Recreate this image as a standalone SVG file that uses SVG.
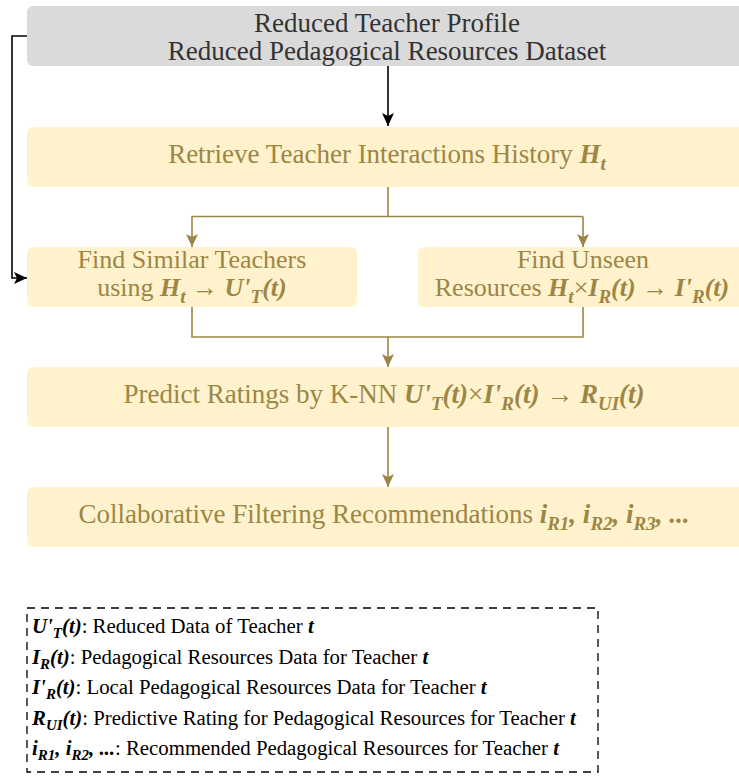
<svg xmlns="http://www.w3.org/2000/svg" width="739" height="776" viewBox="0 0 739 776">
<style>
text{font-family:"Liberation Serif","Times New Roman",serif}
.main{font-size:27px;text-anchor:middle;fill:#9c8646}
.two{font-size:26px}
.top{font-size:27px;text-anchor:middle;fill:#333333}
.m{font-weight:bold;font-style:italic}
.s{font-weight:bold;font-style:italic;font-size:19px}
.ls{font-weight:bold;font-style:italic;font-size:15px}
.leg{font-size:20.8px;fill:#000}
.gold{fill:#fff2cc}
.gl{stroke:#9c8646;stroke-width:1.6;fill:none}
.bl{stroke:#000;stroke-width:1.6;fill:none}
</style>
<defs>
<marker id="ag" markerUnits="userSpaceOnUse" markerWidth="16" markerHeight="16" viewBox="-14 -8 16 16" refX="0" refY="0" orient="auto">
<path d="M0,0 L-13,-6 L-10,0 L-13,6 Z" fill="#9c8646"/>
</marker>
<marker id="ab" markerUnits="userSpaceOnUse" markerWidth="16" markerHeight="16" viewBox="-14 -8 16 16" refX="0" refY="0" orient="auto">
<path d="M0,0 L-13,-6 L-10,0 L-13,6 Z" fill="#000"/>
</marker>
</defs>
<g id="connectors">
<path class="bl" d="M388,66 V126" marker-end="url(#ab)"/>
<path class="bl" d="M27,36 H12 V278 H27" marker-end="url(#ab)"/>
<path class="gl" d="M388,187 V216.5"/>
<path class="gl" d="M583,216.5 H192 V247" marker-end="url(#ag)"/>
<path class="gl" d="M583,216.5 V247" marker-end="url(#ag)"/>
<path class="gl" d="M192,307 V337 H583 V307"/>
<path class="gl" d="M388,337 V367" marker-end="url(#ag)"/>
<path class="gl" d="M388,427 V487" marker-end="url(#ag)"/>
</g>
<g id="node-top">
<rect x="27" y="6" width="721" height="60" rx="6" fill="#dadada"/>
<text class="top" x="387" y="32">Reduced Teacher Profile</text>
<text class="top" x="387" y="60">Reduced Pedagogical Resources Dataset</text>
</g>
<g id="node-retrieve">
<rect class="gold" x="27" y="127" width="721" height="60" rx="6"/>
<text class="main" x="387" y="163">Retrieve Teacher Interactions History <tspan class="m">H</tspan><tspan class="s" dy="7">t</tspan></text>
</g>
<g id="node-similar">
<rect class="gold" x="27" y="247" width="330" height="60" rx="6"/>
<text class="main two" x="192" y="268">Find Similar Teachers</text>
<text class="main two" x="192" y="296">using <tspan class="m">H</tspan><tspan class="s" dy="7">t</tspan><tspan dy="-7"> → </tspan><tspan class="m">U'</tspan><tspan class="s" dy="7">T</tspan><tspan class="m" dy="-7">(t)</tspan></text>
</g>
<g id="node-unseen">
<rect class="gold" x="418" y="247" width="330" height="60" rx="6"/>
<text class="main two" x="583" y="268">Find Unseen</text>
<text class="main two" x="582" y="296">Resources <tspan class="m">H</tspan><tspan class="s" dy="7">t</tspan><tspan dy="-7">×</tspan><tspan class="m">I</tspan><tspan class="s" dy="7">R</tspan><tspan class="m" dy="-7">(t)</tspan> → <tspan class="m">I'</tspan><tspan class="s" dy="7">R</tspan><tspan class="m" dy="-7">(t)</tspan></text>
</g>
<g id="node-predict">
<rect class="gold" x="27" y="367" width="721" height="60" rx="6"/>
<text class="main" x="384" y="403">Predict Ratings by K-NN <tspan class="m">U'</tspan><tspan class="s" dy="7">T</tspan><tspan class="m" dy="-7">(t)</tspan>×<tspan class="m">I'</tspan><tspan class="s" dy="7">R</tspan><tspan class="m" dy="-7">(t)</tspan> → <tspan class="m">R</tspan><tspan class="s" dy="7">UI</tspan><tspan class="m" dy="-7">(t)</tspan></text>
</g>
<g id="node-recommend">
<rect class="gold" x="27" y="487" width="721" height="60" rx="6"/>
<text class="main" x="384" y="523">Collaborative Filtering Recommendations <tspan class="m">i</tspan><tspan class="s" dy="7">R1</tspan><tspan class="m" dy="-7">, i</tspan><tspan class="s" dy="7">R2</tspan><tspan class="m" dy="-7">, i</tspan><tspan class="s" dy="7">R3</tspan><tspan class="m" dy="-7">, ...</tspan></text>
</g>
<g id="legend">
<rect x="27" y="608" width="571" height="164" fill="none" stroke="#000" stroke-width="1.3" stroke-dasharray="8 6"/>
<text class="leg" x="32" y="633"><tspan class="m">U'</tspan><tspan class="ls" dy="5">T</tspan><tspan class="m" dy="-5">(t)</tspan>: Reduced Data of Teacher <tspan class="m">t</tspan></text>
<text class="leg" x="32" y="663.5"><tspan class="m">I</tspan><tspan class="ls" dy="5">R</tspan><tspan class="m" dy="-5">(t)</tspan>: Pedagogical Resources Data for Teacher <tspan class="m">t</tspan></text>
<text class="leg" x="32" y="694"><tspan class="m">I'</tspan><tspan class="ls" dy="5">R</tspan><tspan class="m" dy="-5">(t)</tspan>: Local Pedagogical Resources Data for Teacher <tspan class="m">t</tspan></text>
<text class="leg" x="32" y="724.5"><tspan class="m">R</tspan><tspan class="ls" dy="5">UI</tspan><tspan class="m" dy="-5">(t)</tspan>: Predictive Rating for Pedagogical Resources for Teacher <tspan class="m">t</tspan></text>
<text class="leg" x="32" y="755"><tspan class="m">i</tspan><tspan class="ls" dy="5">R1</tspan><tspan class="m" dy="-5">, i</tspan><tspan class="ls" dy="5">R2</tspan><tspan class="m" dy="-5">, ...</tspan>: Recommended Pedagogical Resources for Teacher <tspan class="m">t</tspan></text>
</g>
</svg>
